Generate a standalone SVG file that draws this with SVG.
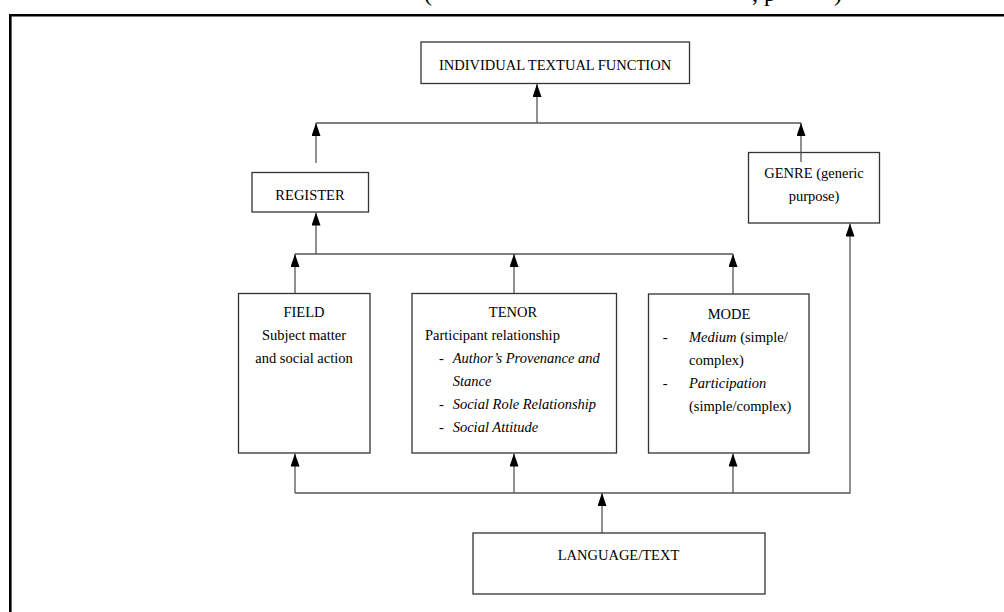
<svg xmlns="http://www.w3.org/2000/svg" width="1004" height="612" viewBox="0 0 1004 612">
<defs>
<marker id="arr" markerUnits="userSpaceOnUse" markerWidth="13" markerHeight="9" refX="13" refY="4.5" orient="auto">
<path d="M0,0 L13,4.5 L0,9 Z" fill="#000"/>
</marker>
<style>
.box{fill:#fff;stroke:#333;stroke-width:1.3}
.c{fill:none;stroke:#555;stroke-width:1.3}
.a{marker-end:url(#arr)}
text{font-family:"Liberation Serif","Times New Roman",serif;font-size:14.5px;fill:#000}
.m{text-anchor:middle}
.i{font-style:italic}
</style>
</defs>
<rect width="1004" height="612" fill="#fff"/>
<path d="M10.3,612 V15.2 H1004" fill="none" stroke="#000" stroke-width="2.6"/>
<text style="font-size:24px" y="0.5"><tspan x="424">(</tspan><tspan x="752">, p</tspan><tspan x="834">)</tspan></text>
<g id="connectors">
<path class="c a" d="M537,123 V84"/>
<path class="c" d="M316,123 H801"/>
<path class="c a" d="M316,163 V123"/>
<path class="c a" d="M801,162 V123"/>
<path class="c a" d="M316,254 V212.5"/>
<path class="c" d="M295,254 H733"/>
<path class="c a" d="M295,293.5 V254"/>
<path class="c a" d="M514,293.5 V254"/>
<path class="c a" d="M733,294 V254"/>
<path class="c a" d="M295,493 H850 V223.5"/>
<path class="c a" d="M295,493 V453.5"/>
<path class="c a" d="M514,493 V453.5"/>
<path class="c a" d="M733,493 V453.5"/>
<path class="c a" d="M602,533 V493"/>
</g>
<g id="individual-textual-function">
<rect class="box" x="421" y="42" width="268.5" height="41.5"/>
<text class="m" x="555" y="70">INDIVIDUAL TEXTUAL FUNCTION</text>
</g>
<g id="register">
<rect class="box" x="252" y="172.5" width="116.5" height="39.5"/>
<text class="m" x="310" y="200">REGISTER</text>
</g>
<g id="genre">
<rect class="box" x="748.5" y="152.5" width="131" height="70.5"/>
<path class="c" d="M801,152.5 V162"/>
<text class="m" x="814" y="178">GENRE (generic</text>
<text class="m" x="814" y="201">purpose)</text>
</g>
<g id="field">
<rect class="box" x="238.5" y="293.5" width="131.5" height="159.5"/>
<text class="m" x="304" y="317">FIELD</text>
<text class="m" x="304" y="340">Subject matter</text>
<text class="m" x="304" y="363">and social action</text>
</g>
<g id="tenor">
<rect class="box" x="412" y="293.5" width="204.5" height="159.5"/>
<text class="m" x="513" y="317">TENOR</text>
<text x="425" y="340">Participant relationship</text>
<text x="439" y="363">-</text>
<text class="i" x="452.7" y="363">Author’s Provenance and</text>
<text class="i" x="452.7" y="386">Stance</text>
<text x="439" y="409">-</text>
<text class="i" x="452.7" y="409">Social Role Relationship</text>
<text x="439" y="432">-</text>
<text class="i" x="452.7" y="432">Social Attitude</text>
</g>
<g id="mode">
<rect class="box" x="648.5" y="294" width="160.5" height="159"/>
<text class="m" x="729" y="319">MODE</text>
<text x="662.7" y="342">-</text>
<text x="689" y="342"><tspan class="i">Medium</tspan> (simple/</text>
<text x="689" y="365">complex)</text>
<text x="662.7" y="388">-</text>
<text class="i" x="689" y="388">Participation</text>
<text x="689" y="411">(simple/complex)</text>
</g>
<g id="language-text">
<rect class="box" x="473" y="533" width="292" height="61"/>
<text class="m" x="618.5" y="560">LANGUAGE/TEXT</text>
</g>
</svg>
